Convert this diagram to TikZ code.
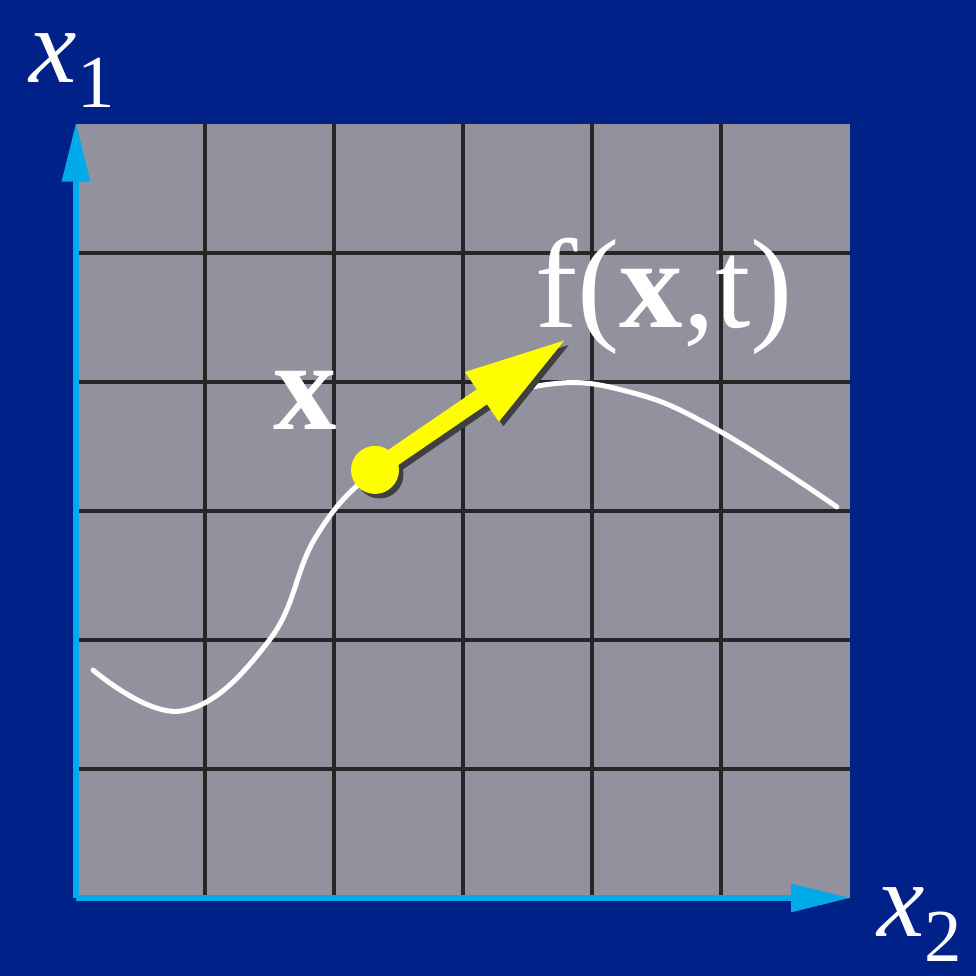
\documentclass[tikz,border=0pt]{standalone}
\usepackage{fontspec}
\setmainfont{Liberation Serif}
\usetikzlibrary{arrows.meta}
\definecolor{slideblue}{RGB}{0,34,136}
\definecolor{cellgray}{RGB}{145,146,158}
\definecolor{axiscyan}{RGB}{0,170,232}
\definecolor{fieldyellow}{RGB}{255,255,0}
\tikzset{
  gridline/.style={line width=1.5pt,black!85},
  axisline/.style={axiscyan,line width=2.4pt,-{Triangle[length=26pt,width=12pt]}},
  pathcurve/.style={white,line width=2.2pt,line cap=round},
  velarrow/.style={line width=8pt,-{Triangle[length=46pt,width=24pt]}},
  biglabel/.style={text=white,inner sep=0pt,font=\fontsize{56}{60}\selectfont},
  axlabel/.style={text=white,inner sep=0pt,font=\fontsize{47}{50}\selectfont}
}
\newcommand{\axsub}[1]{\raisebox{-0.23em}{\upshape\fontsize{33}{36}\selectfont #1}}

\begin{document}
\begin{tikzpicture}[x=2cm,y=2cm]
  \useasboundingbox (-0.589,-0.605) rectangle (6.977,6.961);
  \fill[slideblue] (-0.589,-0.605) rectangle (6.977,6.961);
  \fill[cellgray] (0,0) rectangle (6,6);
  \foreach \i in {1,...,5} {
    \draw[gridline] (\i,0) -- (\i,6);
    \draw[gridline] (0,\i) -- (6,\i);
  }
  % axes
  \coordinate (orig) at (0,0);
  \coordinate (ytip) at (0,6.01);
  \coordinate (xtip) at (6.0,0);
  \draw[axisline] (orig) -- (ytip);
  \draw[axisline] (orig) -- (xtip);
  % trajectory
  \draw[pathcurve] plot[smooth,tension=0.7] coordinates {
    (0.132,1.767) (0.82,1.45) (1.50,2.00) (1.86,2.80)
    (2.318,3.318) (2.95,3.74) (3.65,3.98) (4.30,3.92) (4.97,3.63) (5.899,3.031)};
  % velocity at the point
  \coordinate (xpt) at (2.318,3.318);
  \coordinate (ftip) at (3.814,4.341);
  \draw[velarrow,black!75] ([shift={(0.035,-0.035)}]xpt) -- ([shift={(0.035,-0.035)}]ftip);
  \fill[black!75] ([shift={(0.035,-0.035)}]xpt) circle (0.186);
  \draw[velarrow,fieldyellow] (xpt) -- (ftip);
  \fill[fieldyellow] (xpt) circle (0.186);
  % labels
  \node[axlabel,anchor=base west] (xone) at (-0.36,6.32) {\itshape x\axsub{1}};
  \node[axlabel,anchor=base west] (xtwo) at (6.209,-0.302) {\itshape x\axsub{2}};
  \node[biglabel,anchor=base west] (xlab) at (1.527,3.628) {\bfseries x};
  \node[biglabel,anchor=base west] (flab) at (3.558,4.426) {f(\textbf{x},t)};
\end{tikzpicture}
\end{document}
